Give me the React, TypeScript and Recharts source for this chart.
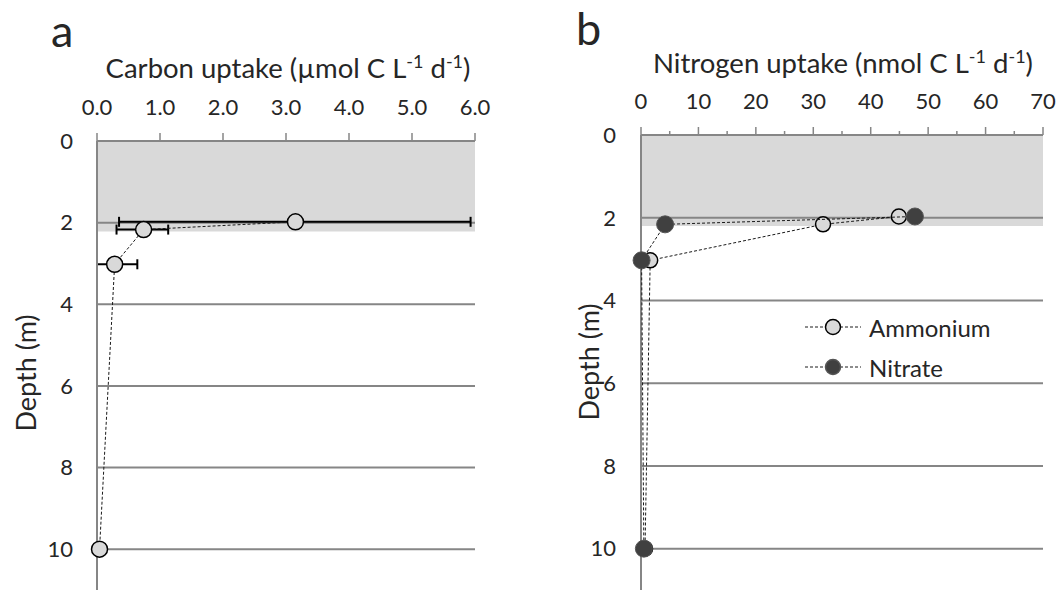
import React from "react";
import { ScatterChart, Scatter, XAxis, YAxis, ReferenceArea, ReferenceLine, ErrorBar, Legend, Label } from "recharts";

const FONT = "Lato, 'Open Sans', sans-serif";
const TEXT = "#262626";
const AXIS = "#868686";

const depthTicks = [0, 2, 4, 6, 8, 10];
const gridDepths = [2, 4, 6, 8, 10];
const shadeDepth = 2.22;

// panel a - carbon
const carbonDepth = [1.98, 2.17, 3.02, 10];
const carbonUptake = [3.15, 0.74, 0.28, 0.04];
const carbonLow = [0.35, 0.31, 0.0, 0.04];
const carbonHigh = [5.93, 1.13, 0.64, 0.04];
const carbonTicks = [0, 1, 2, 3, 4, 5, 6];

// panel b - nitrogen
const nitrogenDepth = [1.97, 2.16, 3.03, 10];
const ammonium = [44.9, 31.7, 1.6, 0.7];
const nitrate = [47.7, 4.2, 0.1, 0.5];
const nitrogenTicks = [0, 5, 10, 15, 20, 25, 30, 35, 40, 45, 50, 55, 60, 65, 70];

const carbonData = carbonUptake.map((x, i) => ({
  x,
  y: carbonDepth[i],
  err: [x - carbonLow[i], carbonHigh[i] - x],
}));
const ammoniumData = ammonium.map((x, i) => ({ x, y: nitrogenDepth[i] }));
const nitrateData = nitrate.map((x, i) => ({ x, y: nitrogenDepth[i] }));

const tickStyle = { fontFamily: FONT, fontSize: 22, fill: TEXT };
const dashLine = { stroke: "#1a1a1a", strokeWidth: 1, strokeDasharray: "3 2" };

const lightDot = (r: number) => (p: any) =>
  <circle cx={p.cx} cy={p.cy} r={r} fill="#d9d9d9" stroke="#000" strokeWidth={1.5} />;
const darkDot = (p: any) =>
  <circle cx={p.cx} cy={p.cy} r={8.5} fill="#404040" stroke="#555" strokeWidth={1} />;

function Title({ letter, lx, ly, text, cx, cy }: any) {
  return (
    <g fontFamily={FONT} fill={TEXT}>
      <text x={lx} y={ly} fontSize={45}>{letter}</text>
      <text x={cx} y={cy} fontSize={27.5} textAnchor="middle">
        {text} C L<tspan dy={-10} fontSize={18}>-1</tspan>
        <tspan dy={10}> d</tspan><tspan dy={-10} fontSize={18}>-1</tspan>
        <tspan dy={10}>)</tspan>
      </text>
    </g>
  );
}

function DepthLabel({ x, y }: any) {
  return (
    <text x={x} y={y} transform={`rotate(-90 ${x} ${y})`} textAnchor="middle" dominantBaseline="central"
      fontFamily={FONT} fontSize={27} fill={TEXT}>
      Depth (m)
    </text>
  );
}

function NitrogenTick(props: any) {
  const { x, y, payload } = props;
  const axisY = y + 8 + 18;
  const major = payload.value % 10 === 0;
  return (
    <g>
      <line x1={x} x2={x} y1={axisY} y2={axisY - (major ? 8 : 4)} stroke={AXIS} strokeWidth={1.5} />
      {major && <text x={x} y={y} textAnchor="middle" {...tickStyle}>{payload.value}</text>}
    </g>
  );
}

const legendItems = [
  { name: "Ammonium", fill: "#d9d9d9", stroke: "#000" },
  { name: "Nitrate", fill: "#404040", stroke: "#555" },
];

function LegendBox() {
  return (
    <div style={{ fontFamily: FONT, fontSize: 24, color: TEXT }}>
      {legendItems.map((s) => (
        <div key={s.name} style={{ display: "flex", alignItems: "center", height: 40 }}>
          <svg width={56} height={20}>
            <line x1={0} x2={56} y1={10} y2={10} {...dashLine} />
            <circle cx={28} cy={10} r={7.5} fill={s.fill} stroke={s.stroke} strokeWidth={1.5} />
          </svg>
          <span style={{ marginLeft: 8 }}>{s.name}</span>
        </div>
      ))}
    </div>
  );
}

export default function App() {
  return (
    <div style={{ position: "absolute", left: 0, top: 0, width: 1060, height: 590, background: "#fff" }}>
      <div style={{ position: "absolute", left: 0, top: 0 }}>
        <ScatterChart width={520} height={590} margin={{ top: 101, right: 45, bottom: 0, left: 37 }}>
          <ReferenceArea y1={0} y2={shadeDepth} fill="#d9d9d9" fillOpacity={1} stroke="none" />
          {gridDepths.map((d) => (
            <ReferenceLine key={d} y={d} stroke={AXIS} strokeWidth={2} />
          ))}
          <XAxis orientation="top" type="number" dataKey="x" domain={[0, 6]} ticks={carbonTicks}
            tickFormatter={(v: number) => v.toFixed(1)} height={40} tickSize={8} tickMargin={18}
            tick={tickStyle} stroke={AXIS} strokeWidth={2} tickLine={{ stroke: AXIS, strokeWidth: 1.5 }}>
            <Label content={() => <Title letter="a" lx={51} ly={47} text="Carbon uptake (µmol" cx={288} cy={78} />} />
          </XAxis>
          <YAxis type="number" dataKey="y" domain={[0, 11]} reversed ticks={depthTicks} width={60}
            tickLine={false} tickSize={0} tickMargin={24} tick={tickStyle} stroke={AXIS} strokeWidth={2}>
            <Label content={() => <DepthLabel x={25} y={373} />} />
          </YAxis>
          <Scatter data={carbonData} line={dashLine} lineType="joint" shape={lightDot(8)} isAnimationActive={false}>
            <ErrorBar dataKey="err" direction="x" width={5} stroke="#000" strokeWidth={2} />
          </Scatter>
        </ScatterChart>
      </div>
      <div style={{ position: "absolute", left: 540, top: 0 }}>
        <ScatterChart width={520} height={590} margin={{ top: 95, right: 17, bottom: 0, left: 41 }}>
          <ReferenceArea y1={0} y2={2.2} fill="#d9d9d9" fillOpacity={1} stroke="none" />
          {gridDepths.map((d) => (
            <ReferenceLine key={d} y={d} stroke={AXIS} strokeWidth={2} />
          ))}
          <XAxis orientation="top" type="number" dataKey="x" domain={[0, 70]} ticks={nitrogenTicks}
            height={40} tickSize={8} tickMargin={18} tick={<NitrogenTick />} tickLine={false}
            stroke={AXIS} strokeWidth={2} interval={0}>
            <Label content={() => <Title letter="b" lx={36} ly={45} text="Nitrogen uptake (nmol" cx={303} cy={73} />} />
          </XAxis>
          <YAxis type="number" dataKey="y" domain={[0, 11]} reversed ticks={depthTicks} width={60}
            tickLine={false} tickSize={0} tickMargin={25} tick={tickStyle} stroke={AXIS} strokeWidth={2}>
            <Label content={() => <DepthLabel x={48} y={362} />} />
          </YAxis>
          <Scatter name="Ammonium" data={ammoniumData} line={dashLine} lineType="joint" shape={lightDot(7.5)}
            isAnimationActive={false} />
          <Scatter name="Nitrate" data={nitrateData} line={dashLine} lineType="joint" shape={darkDot}
            isAnimationActive={false} />
          <Legend layout="vertical" align="center" verticalAlign="middle" content={() => <LegendBox />}
            wrapperStyle={{ left: 265, top: 307, width: 220 }} />
        </ScatterChart>
      </div>
    </div>
  );
}
